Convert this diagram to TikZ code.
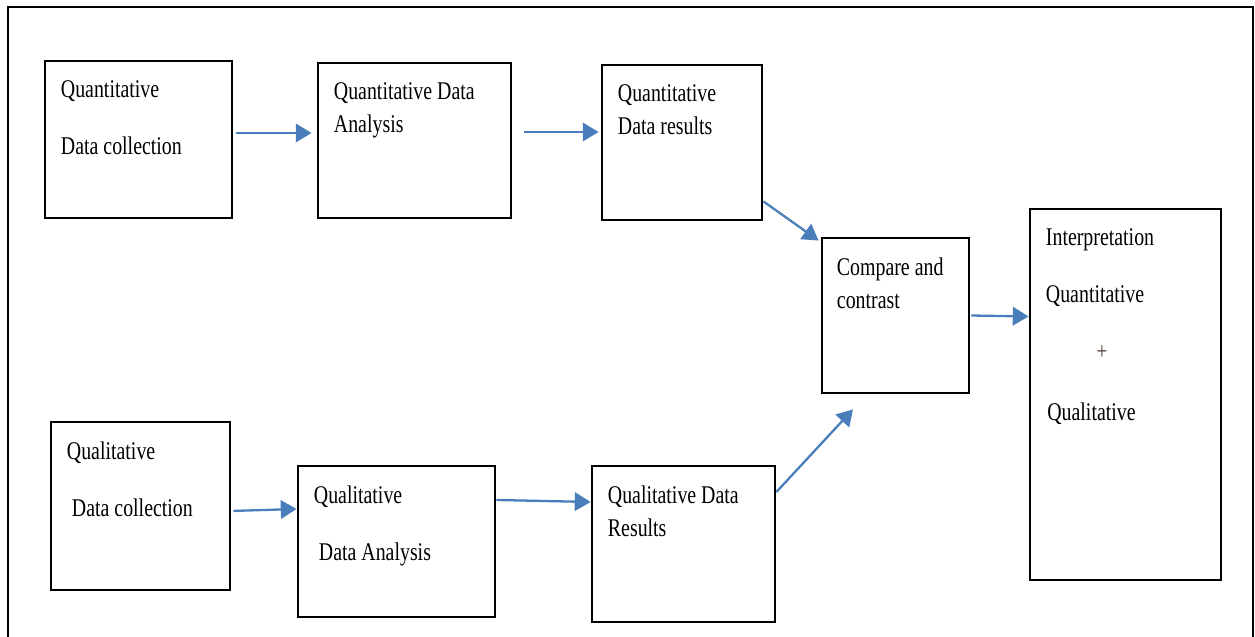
\documentclass[tikz,border=0pt]{standalone}
\usepackage{fontspec}
\setmainfont{Liberation Serif}[FakeStretch=0.78]
\usepackage{tikz}
\usetikzlibrary{arrows.meta,positioning,calc}
\definecolor{ArrowBlue}{HTML}{4A7EBB}
\definecolor{PlusBrown}{HTML}{4A3A30}
\tikzset{
  boxnode/.style={rectangle,draw,line width=1.6pt,inner sep=0pt},
  txt/.style={anchor=north west,inner sep=0pt,align=left,
              font=\fontsize{14.5}{18.7}\selectfont},
  arr/.style={-{Triangle[length=9pt,width=10.5pt]},line width=1.3pt,draw=ArrowBlue}
}
\begin{document}
\begin{tikzpicture}
  \clip (0,0) rectangle (25.1,12.74);
  \fill[white] (0,0) rectangle (25.1,12.74);
  % outer frame, open at the bottom
  \draw[line width=1.1pt] (0.16,-1) rectangle (25.06,12.6);

  % quantitative strand
  \node[boxnode,minimum width=3.74cm,minimum height=3.14cm] (qnColl) at (2.77,9.95) {};
  \node[boxnode,minimum width=3.86cm,minimum height=3.10cm] (qnAna) at (8.29,9.93) {};
  \node[boxnode,minimum width=3.20cm,minimum height=3.10cm] (qnRes) at (13.64,9.89) {};
  % merge
  \node[boxnode,minimum width=2.94cm,minimum height=3.10cm] (cmp) at (17.91,6.43) {};
  \node[boxnode,minimum width=3.82cm,minimum height=7.42cm] (interp) at (22.51,4.85) {};
  % qualitative strand
  \node[boxnode,minimum width=3.58cm,minimum height=3.36cm] (qlColl) at (2.81,2.62) {};
  \node[boxnode,minimum width=3.94cm,minimum height=3.02cm] (qlAna) at (7.93,1.91) {};
  \node[boxnode,minimum width=3.66cm,minimum height=3.12cm] (qlRes) at (13.67,1.86) {};

  % texts
  \node[txt,below right=0.42cm and 0.34cm of qnColl.north west] (qnCollT) {Quantitative\\[13.6pt]Data collection};
  \node[txt,below right=0.42cm and 0.34cm of qnAna.north west] (qnAnaT) {Quantitative Data\\Analysis};
  \node[txt,below right=0.42cm and 0.34cm of qnRes.north west] (qnResT) {Quantitative\\Data results};
  \node[txt,below right=0.42cm and 0.32cm of cmp.north west] (cmpT) {Compare and\\contrast};
  \node[txt,below right=0.42cm and 0.34cm of interp.north west] (interpT) {Interpretation\\[13.6pt]Quantitative};
  \node[font=\fontsize{14}{16}\selectfont,text=PlusBrown,inner sep=0pt] (plus) at (22.04,5.68) {+};
  \node[txt,below=0.84cm of plus.south,anchor=north west,xshift=-1.1cm] (interpQl) {Qualitative};
  \node[txt,below right=0.42cm and 0.34cm of qlColl.north west] (qlCollT) {Qualitative\\[13.6pt]\hspace{0.1cm}Data collection};
  \node[txt,below right=0.42cm and 0.34cm of qlAna.north west] (qlAnaT) {Qualitative\\[13.6pt]\hspace{0.1cm}Data Analysis};
  \node[txt,below right=0.42cm and 0.34cm of qlRes.north west] (qlResT) {Qualitative Data\\Results};

  % connectors
  \draw[arr,shorten <=0.06cm,shorten >=0.1cm] ([yshift=0.13cm]qnColl.east) -- ([yshift=0.13cm]qnColl.east -| qnAna.west);
  \draw[arr,shorten <=0.24cm,shorten >=0.04cm] ([yshift=0.17cm]qnAna.east) -- ([yshift=0.17cm]qnAna.east -| qnRes.west);
  \draw[arr] ([yshift=0.4cm]qnRes.south east) -- ([xshift=-0.04cm,yshift=-0.08cm]cmp.north west);
  \draw[arr,shorten <=0.02cm] (cmp.east) -- ([yshift=-0.02cm]cmp.east -| interp.west);
  \draw[arr,shorten <=0.04cm] ([yshift=-0.1cm]qlColl.east) -- ([yshift=0.65cm]qlAna.west);
  \draw[arr] ([yshift=0.83cm]qlAna.east) -- ([yshift=0.84cm]qlRes.west);
  \draw[arr] ([yshift=1.04cm]qlRes.east) -- ([xshift=-0.85cm,yshift=-0.3cm]cmp.south);
\end{tikzpicture}
\end{document}
